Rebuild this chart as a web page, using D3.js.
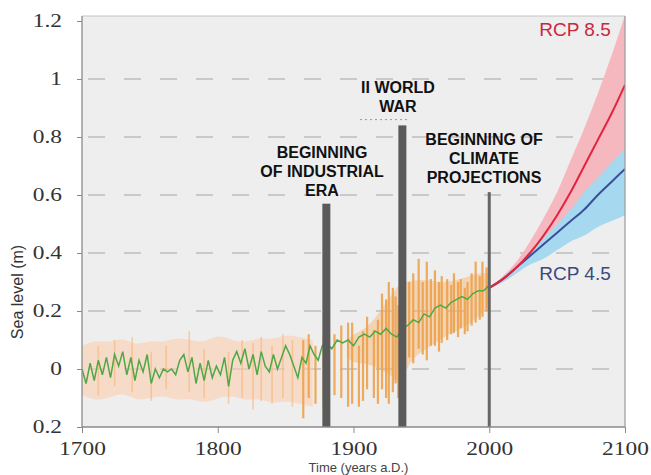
<!DOCTYPE html>
<html>
<head>
<meta charset="utf-8">
<script src="https://cdn.jsdelivr.net/npm/d3@7"></script>
<style>
  html, body { margin: 0; padding: 0; background: #ffffff; }
  svg { display: block; }
</style>
</head>
<body>
<div id="chart"></div>
<script>
// ---------------- DATA ----------------
const yTickValues = [-0.2, 0, 0.2, 0.4, 0.6, 0.8, 1.0, 1.2];
const yTickLabels = ["0.2", "0", "0.2", "0.4", "0.6", "0.8", "1", "1.2"];
const xTickValues = [1700, 1800, 1900, 2000, 2100];
const xTickLabels = ["1700", "1800", "1900", "2000", "2100"];
const gridValues = [0, 0.2, 0.4, 0.6, 0.8, 1.0];

// reconstructed sea level (green line)
const greenYears = [1700,1703,1706,1709,1712,1715,1718,1721,1724,1727,1730,1733,1736,1739,1742,1745,1748,1751,1754,1757,1760,1763,1766,1769,1772,1775,1778,1781,1784,1787,1790,1793,1796,1799,1802,1805,1808,1811,1814,1817,1820,1823,1826,1829,1832,1835,1838,1841,1844,1847,1850,1853,1856,1859,1862,1865,1868,1871,1874,1877,1880,1884,1888,1892,1896,1900,1904,1908,1912,1916,1920,1924,1928,1932,1936,1940,1944,1948,1952,1956,1960,1964,1968,1972,1976,1980,1984,1988,1992,1996,2000];
const greenLevels = [0.0,-0.05,0.02,-0.04,0.03,-0.02,0.04,-0.03,0.05,0.01,0.06,-0.02,0.04,-0.04,0.03,-0.01,0.05,-0.05,0.0,-0.03,0.0,-0.01,0.0,-0.02,0.03,0.05,-0.01,0.04,-0.05,0.02,-0.04,0.03,-0.03,0.01,-0.02,0.04,-0.06,0.03,0.06,0.02,0.07,0.0,0.05,-0.02,0.06,0.01,-0.01,0.05,0.0,0.04,0.08,0.05,0.01,-0.03,0.04,0.02,0.08,0.05,0.03,0.08,0.09,0.07,0.10,0.09,0.10,0.08,0.11,0.12,0.11,0.13,0.12,0.14,0.12,0.11,0.14,0.15,0.17,0.16,0.19,0.18,0.21,0.22,0.21,0.23,0.24,0.25,0.24,0.26,0.27,0.27,0.29];

// early uncertainty band (peach)
const bandYears = [1700,1710,1720,1730,1740,1750,1760,1770,1780,1790,1800,1810,1820,1830,1840,1850,1860,1870];
const bandUpper = [0.08,0.10,0.09,0.11,0.08,0.10,0.09,0.11,0.10,0.09,0.12,0.10,0.09,0.11,0.10,0.12,0.11,0.10];
const bandLower = [-0.09,-0.11,-0.10,-0.08,-0.11,-0.10,-0.09,-0.11,-0.10,-0.12,-0.10,-0.09,-0.11,-0.10,-0.12,-0.11,-0.12,-0.13];

// tide gauge envelope (orange)
const envYears = [1895,1900,1910,1920,1930,1935,1940,1950,1960,1970,1980,1990,2000];
const envLower = [0.04,0.02,0.02,0.0,-0.03,-0.06,0.02,0.06,0.09,0.12,0.14,0.17,0.22];
const envUpper = [0.10,0.12,0.14,0.20,0.27,0.30,0.30,0.31,0.30,0.30,0.31,0.33,0.33];

// orange spikes: year, low, high
const spikeYears = [1712,1724,1737,1751,1762,1779,1790,1808,1818,1826,1832,1840,1848,1855,
  1863,1867,1872,1878,1886,1891,1896,1899,1904,1907,1910,1915,1918,1921,1924,1926,1929,1931,1933,
  1941,1944,1948,1951,1954,1957,1960,1963,1965,1969,1972,1974,1977,1979,1982,1984,1987,1990,1993,1995,1998];
const spikeLow = [-0.09,-0.06,-0.08,-0.11,-0.07,-0.08,-0.10,-0.12,-0.10,-0.14,-0.11,-0.12,-0.10,-0.13,
  -0.17,-0.10,-0.12,-0.13,-0.09,-0.10,-0.13,-0.12,-0.13,-0.11,-0.07,-0.10,-0.12,-0.07,-0.10,-0.12,-0.08,-0.05,-0.10,
  0.04,0.02,0.07,0.05,0.03,0.08,0.08,0.06,0.09,0.10,0.12,0.125,0.11,0.14,0.12,0.13,0.15,0.16,0.17,0.18,0.20];
const spikeHigh = [0.08,0.10,0.11,0.06,0.08,0.13,0.07,0.06,0.10,0.09,0.11,0.08,0.12,0.10,
  0.10,0.12,0.08,0.11,0.12,0.15,0.16,0.16,0.08,0.13,0.18,0.135,0.17,0.26,0.24,0.30,0.28,0.25,0.22,
  0.30,0.33,0.38,0.30,0.37,0.31,0.34,0.30,0.32,0.31,0.29,0.33,0.30,0.31,0.28,0.30,0.33,0.37,0.32,0.37,0.35];

// projections
const projYears = [2000,2010,2020,2030,2040,2050,2060,2070,2080,2090,2100];
const rcp85Mid   = [0.28,0.31,0.35,0.40,0.46,0.53,0.61,0.70,0.79,0.88,0.98];
const rcp85Upper = [0.28,0.32,0.37,0.44,0.52,0.61,0.72,0.83,0.95,1.08,1.22];
const rcp85Lower = [0.28,0.30,0.33,0.37,0.41,0.46,0.51,0.56,0.62,0.68,0.75];
const rcp45Mid   = [0.28,0.31,0.35,0.39,0.43,0.47,0.51,0.55,0.60,0.645,0.69];
const rcp45Upper = [0.28,0.31,0.35,0.40,0.45,0.50,0.55,0.61,0.66,0.71,0.76];
const rcp45Lower = [0.28,0.30,0.33,0.36,0.38,0.41,0.44,0.46,0.49,0.51,0.53];

// event markers
const eventYears = [1880, 1936, 2000];
const eventTops = [0.57, 0.84, 0.61];
const eventLabels = [["BEGINNING","OF INDUSTRIAL","ERA"], ["II WORLD","WAR"], ["BEGINNING OF","CLIMATE","PROJECTIONS"]];
const seriesLabels = ["RCP 8.5", "RCP 4.5"];

// ---------------- CHART ----------------
const W = 651, H = 475;
const svg = d3.select("#chart").append("svg").attr("width", W).attr("height", H);

const x = d3.scaleLinear().domain([1700, 2100]).range([82, 625]);
const y = d3.scaleLinear().domain([-0.2, 1.2]).range([427, 21]);
const panelTop = 16;

// panel background
svg.append("rect")
  .attr("x", x(1700)).attr("y", panelTop)
  .attr("width", x(2100) - x(1700)).attr("height", y(-0.2) - panelTop)
  .attr("fill", "#eeeeee");

svg.append("clipPath").attr("id", "clip").append("rect")
  .attr("x", x(1700)).attr("y", panelTop)
  .attr("width", x(2100) - x(1700)).attr("height", y(-0.2) - panelTop);

const plot = svg.append("g").attr("clip-path", "url(#clip)");

// gridlines
plot.selectAll("line.grid").data(gridValues).join("line")
  .attr("class", "grid")
  .attr("x1", x(1700) + 6).attr("x2", x(2100))
  .attr("y1", d => y(d)).attr("y2", d => y(d))
  .attr("stroke", "#bdbdbd").attr("stroke-width", 1.3)
  .attr("stroke-dasharray", "17,19");

// peach band
const bandData = bandYears.map((yr, i) => ({yr, lo: bandLower[i], hi: bandUpper[i]}));
plot.append("path").datum(bandData)
  .attr("d", d3.area().x(d => x(d.yr)).y0(d => y(d.lo)).y1(d => y(d.hi)).curve(d3.curveBasis))
  .attr("fill", "#fbcfb0").attr("opacity", 0.6);

// orange envelope
const envData = envYears.map((yr, i) => ({yr, lo: envLower[i], hi: envUpper[i]}));
plot.append("path").datum(envData)
  .attr("d", d3.area().x(d => x(d.yr)).y0(d => y(d.lo)).y1(d => y(d.hi)).curve(d3.curveBasis))
  .attr("fill", "#f6b36e").attr("opacity", 0.45);

// spikes
const spikes = spikeYears.map((yr, i) => ({yr, lo: spikeLow[i], hi: spikeHigh[i]}));
plot.selectAll("line.spike").data(spikes).join("line")
  .attr("class", "spike")
  .attr("x1", d => x(d.yr)).attr("x2", d => x(d.yr))
  .attr("y1", d => y(d.lo)).attr("y2", d => y(d.hi))
  .attr("stroke", d => d.yr < 1860 ? "#f5b57a" : "#efa24a")
  .attr("stroke-width", d => d.yr < 1860 ? 1.6 : 2.2)
  .attr("opacity", d => d.yr < 1860 ? 0.6 : 0.9);

// green line
const greenData = greenYears.map((yr, i) => ({yr, v: greenLevels[i]}));
plot.append("path").datum(greenData)
  .attr("d", d3.line().x(d => x(d.yr)).y(d => y(d.v)))
  .attr("fill", "none").attr("stroke", "#4fa845").attr("stroke-width", 1.5);

// projection bands
const p85 = projYears.map((yr, i) => ({yr, lo: rcp85Lower[i], hi: rcp85Upper[i], m: rcp85Mid[i]}));
const p45 = projYears.map((yr, i) => ({yr, lo: rcp45Lower[i], hi: rcp45Upper[i], m: rcp45Mid[i]}));
const bandArea = d3.area().x(d => x(d.yr)).y0(d => y(d.lo)).y1(d => y(d.hi)).curve(d3.curveMonotoneX);
plot.append("path").datum(p85).attr("d", bandArea).attr("fill", "#f5b8bf");
plot.append("path").datum(p45).attr("d", bandArea).attr("fill", "#a6d9ef");

const midLine = d3.line().x(d => x(d.yr)).y(d => y(d.m)).curve(d3.curveMonotoneX);
plot.append("path").datum(p45).attr("d", midLine)
  .attr("fill", "none").attr("stroke", "#3a4f9a").attr("stroke-width", 2);
plot.append("path").datum(p85).attr("d", midLine)
  .attr("fill", "none").attr("stroke", "#e3243f").attr("stroke-width", 2);

// event bars
const events = eventYears.map((yr, i) => ({yr, top: eventTops[i], lines: eventLabels[i]}));
plot.selectAll("rect.event").data(events).join("rect")
  .attr("class", "event")
  .attr("x", d => x(d.yr) - (d.yr === 2000 ? 1.5 : 4))
  .attr("width", d => d.yr === 2000 ? 3 : 8)
  .attr("y", d => y(d.top))
  .attr("height", d => y(-0.2) - y(d.top))
  .attr("fill", d => d.yr === 2000 ? "#666666" : "#5a5a5a");

// dotted line under WWII label
svg.append("line")
  .attr("x1", 360).attr("x2", 408)
  .attr("y1", y(0.86)).attr("y2", y(0.86))
  .attr("stroke", "#999").attr("stroke-width", 1).attr("stroke-dasharray", "2,3");

// event labels
const labelCenters = [[322, 158], [398, 93], [484, 145]];
events.forEach((ev, i) => {
  const t = svg.append("text")
    .attr("text-anchor", "middle")
    .attr("font-family", "'Liberation Sans', Arial, sans-serif")
    .attr("font-weight", "bold")
    .attr("font-size", 16)
    .attr("fill", "#111");
  ev.lines.forEach((ln, j) => {
    t.append("tspan").attr("x", labelCenters[i][0]).attr("y", labelCenters[i][1] + j * 19).text(ln);
  });
});

// RCP labels
svg.append("text").attr("x", 575).attr("y", y(1.17) + 6)
  .attr("text-anchor", "middle")
  .attr("font-family", "'Liberation Sans', Arial, sans-serif")
  .attr("font-size", 19).attr("fill", "#c9283d")
  .text(seriesLabels[0]);
svg.append("text").attr("x", 575).attr("y", y(0.33) + 7)
  .attr("text-anchor", "middle")
  .attr("font-family", "'Liberation Sans', Arial, sans-serif")
  .attr("font-size", 19).attr("fill", "#3c4a7a")
  .text(seriesLabels[1]);

// frame: top and right
svg.append("line").attr("x1", x(1700)).attr("x2", x(2100)).attr("y1", panelTop).attr("y2", panelTop)
  .attr("stroke", "#c4c4c4").attr("stroke-width", 1);
svg.append("line").attr("x1", x(2100)).attr("x2", x(2100)).attr("y1", panelTop).attr("y2", y(-0.2))
  .attr("stroke", "#9a9a9a").attr("stroke-width", 1.2);

// axes
const serif = "'Liberation Serif', 'DejaVu Serif', 'Times New Roman', serif";
const yAxis = d3.axisLeft(y).tickValues(yTickValues).tickSize(5).tickPadding(0)
  .tickFormat((d, i) => yTickLabels[i]);
const gy = svg.append("g").attr("transform", `translate(${x(1700)},0)`).call(yAxis);
gy.attr("font-family", serif);
gy.select(".domain").attr("stroke", "#8a8a8a").attr("stroke-width", 1.3)
  .attr("d", `M0,${panelTop}V${y(-0.2)}`);
gy.selectAll(".tick line").attr("stroke", "#8a8a8a");
gy.selectAll(".tick text")
  .style("font-family", serif)
  .attr("font-size", 18).attr("fill", "#333")
  .attr("x", -20 / 1.3).attr("dy", "0.32em")
  .attr("transform", "scale(1.3,1)");

const xAxis = d3.axisBottom(x).tickValues(xTickValues).tickSize(6).tickPadding(0)
  .tickFormat((d, i) => xTickLabels[i]);
const gx = svg.append("g").attr("transform", `translate(0,${y(-0.2)})`).call(xAxis);
gx.attr("font-family", serif);
gx.select(".domain").attr("stroke", "#8a8a8a").attr("stroke-width", 1.3)
  .attr("d", `M${x(1700)},0H${x(2100)}`);
gx.selectAll(".tick line").attr("stroke", "#8a8a8a");
gx.selectAll(".tick text")
  .style("font-family", serif)
  .attr("font-size", 18).attr("fill", "#333")
  .attr("y", 28).attr("dy", 0)
  .attr("transform", "scale(1.3,1)");

// axis titles
svg.append("text")
  .attr("x", x(1900) + 5).attr("y", 472)
  .attr("text-anchor", "middle")
  .attr("font-family", "'Liberation Sans', Arial, sans-serif")
  .attr("font-size", 13).attr("fill", "#444")
  .text("Time (years a.D.)");
svg.append("text")
  .attr("transform", `translate(23,292) rotate(-90)`)
  .attr("text-anchor", "middle")
  .attr("font-family", "'Liberation Sans', Arial, sans-serif")
  .attr("font-size", 16).attr("fill", "#333")
  .text("Sea level (m)");
</script>
</body>
</html>
